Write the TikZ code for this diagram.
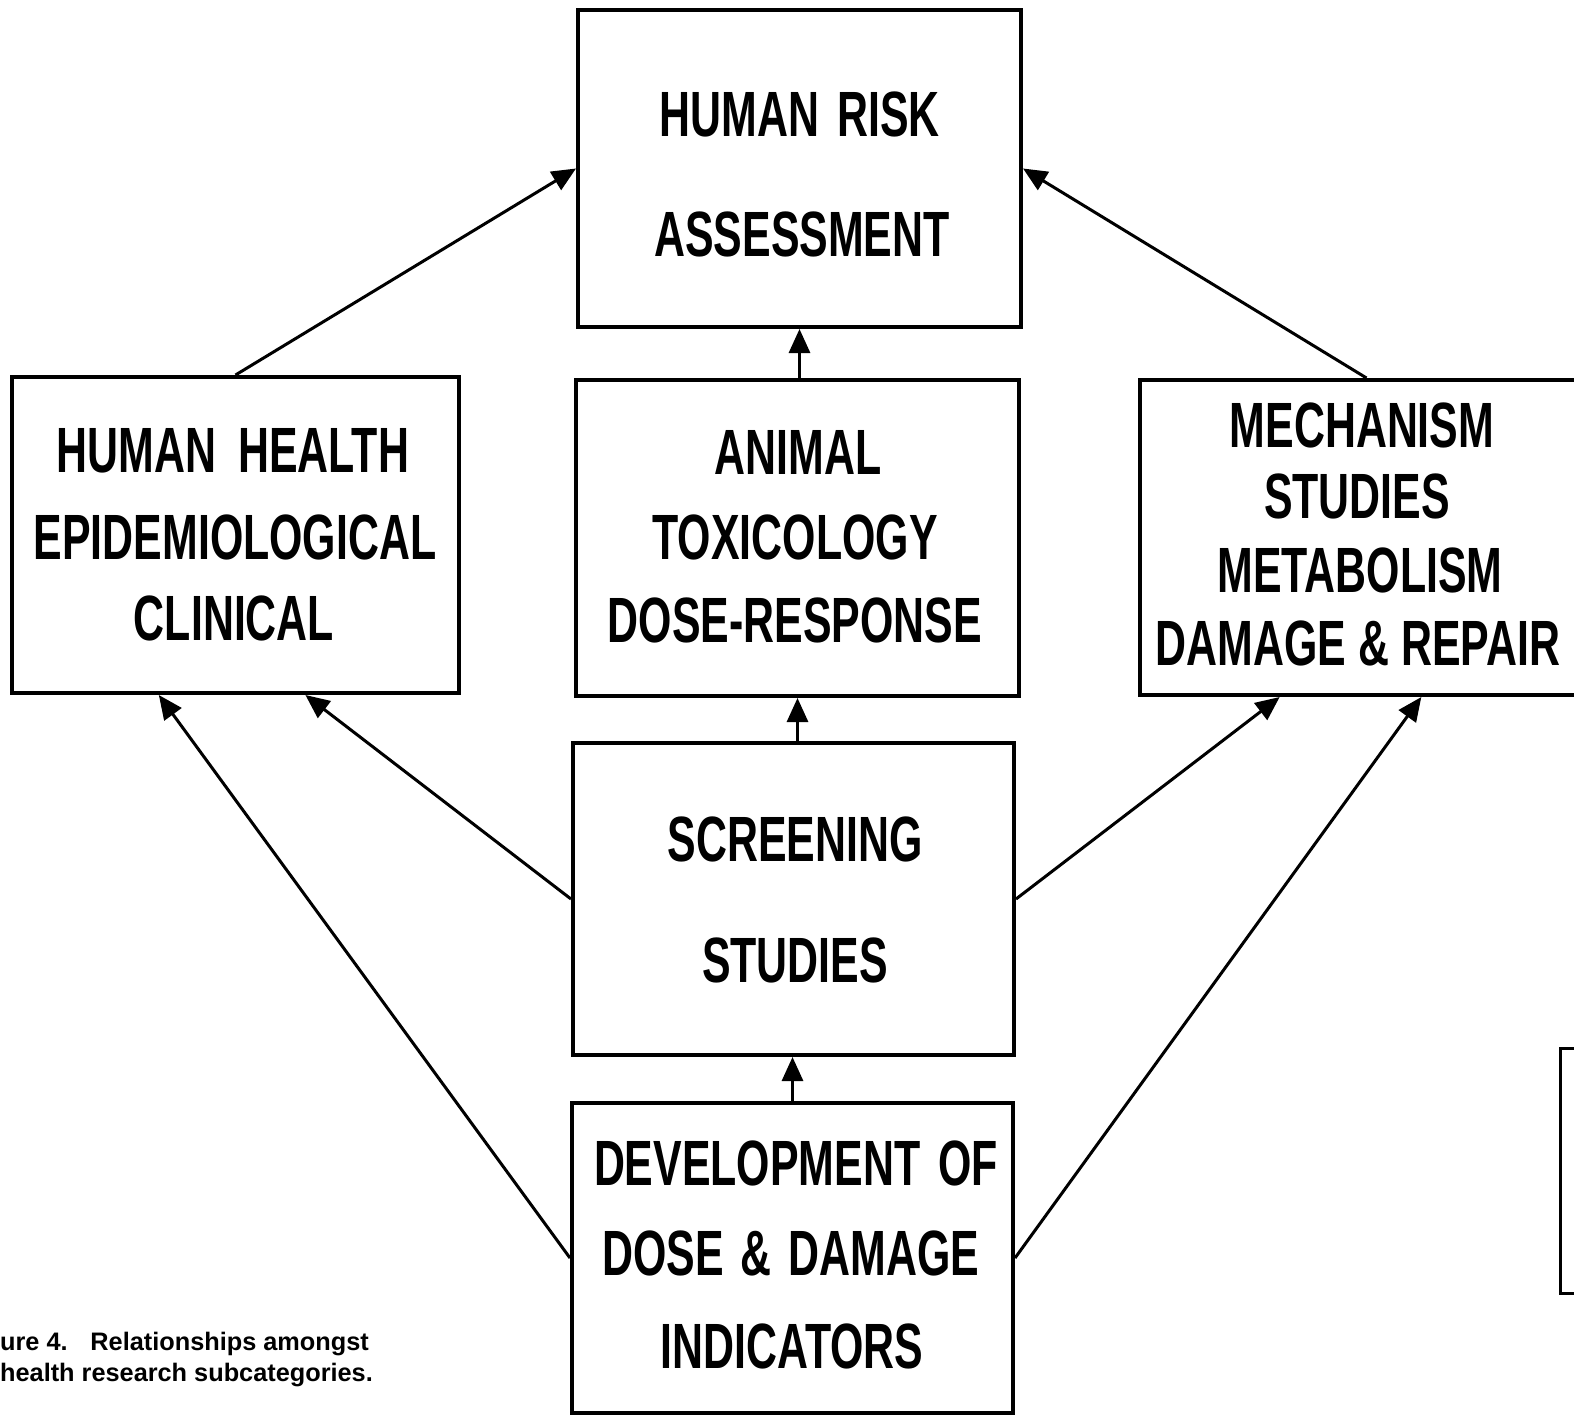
\documentclass[tikz,border=0pt]{standalone}
\usepackage{fontspec}
\usetikzlibrary{arrows.meta,calc}
\newfontfamily\boxfont{Liberation Sans}[FakeStretch=0.67]
\newfontfamily\capfont{Liberation Sans}
\begin{document}
\begin{tikzpicture}[x=1pt,y=-1pt,
  blk/.style={draw, line width=4pt, inner sep=0pt, minimum width=#1},
  lbl/.style={anchor=base, inner sep=0pt, font=\boxfont\bfseries\fontsize{64}{64}\selectfont},
  arr/.style={line width=3pt, -{Triangle[length=24pt,width=21pt]}},
  capline/.style={anchor=base west, inner sep=0pt, font=\capfont\bfseries\fontsize{25.3}{30}\selectfont}]
\useasboundingbox (0,0) rectangle (1574,1417);

% boxes
\node[blk=443pt, minimum height=317pt] (risk)   at (799.5,168.5) {};
\node[blk=447pt, minimum height=316pt] (hh)     at (235.5,535) {};
\node[blk=443pt, minimum height=316pt] (animal) at (797.5,538) {};
\node[blk=453pt, minimum height=315pt] (mech)   at (1366.5,537.5) {};
\node[blk=441pt, minimum height=312pt] (screen) at (793.5,899) {};
\node[blk=441pt, minimum height=310pt] (dev)    at (792.5,1258) {};

% box texts
\node[lbl] (risk-1) at (800,136) {HUMAN\hspace{18pt}RISK};
\node[lbl] (risk-2) at (802,256) {ASSESSMENT};

\node[lbl] (hh-1) at (233,472) {HUMAN\hspace{22pt}HEALTH};
\node[lbl] (hh-2) at (235,559) {EPIDEMIOLOGICAL};
\node[lbl] (hh-3) at (234,640) {CLINICAL};

\node[lbl] (an-1) at (798,474) {ANIMAL};
\node[lbl] (an-2) at (795,559) {TOXICOLOGY};
\node[lbl] (an-3) at (795,642) {DOSE-RESPONSE};

\node[lbl] (me-1) at (1362,447) {MECHANISM};
\node[lbl] (me-2) at (1357,518) {STUDIES};
\node[lbl] (me-3) at (1360,592) {METABOLISM};
\node[lbl] (me-4) at (1358,665) {DAMAGE \& REPAIR};

\node[lbl] (sc-1) at (795,861) {SCREENING};
\node[lbl] (sc-2) at (795,982) {STUDIES};

\node[lbl] (dv-1) at (796,1185) {DEVELOPMENT\hspace{18pt}OF};
\node[lbl] (dv-2) at (791,1275) {DOSE\hspace{17pt}\&\hspace{17pt}DAMAGE};
\node[lbl] (dv-3) at (792,1368) {INDICATORS};

% connectors into the risk assessment box
\draw[arr] (hh.north) -- (risk.west);
\draw[arr] (mech.north) -- (risk.east);
\draw[arr] (animal.north -| risk.south) -- (risk.south);

% connectors up the central column
\draw[arr] (screen.north -| animal.south) -- (animal.south);
\draw[arr] (dev.north) -- (dev.north |- screen.south);

% connectors from screening studies
\draw[arr] (screen.west) -- ($(hh.south west)!0.655!(hh.south east)$);
\draw[arr] (screen.east) -- ($(mech.south west)!0.31!(mech.south east)$);

% connectors from dose & damage indicators
\draw[arr] (dev.west) -- ($(hh.south west)!0.33!(hh.south east)$);
\draw[arr] (dev.east) -- ($(mech.south west)!0.62!(mech.south east)$);

% edge of the neighbouring panel
\draw[line width=3pt] (1576,1048) -- (1560,1048) -- (1560,1293) -- (1576,1293);

% caption
\node[capline] (cap-1) at (0,1350) {ure 4.\hspace*{0.9em}Relationships amongst};
\node[capline] (cap-2) at (0,1381) {health research subcategories.};
\end{tikzpicture}
\end{document}
